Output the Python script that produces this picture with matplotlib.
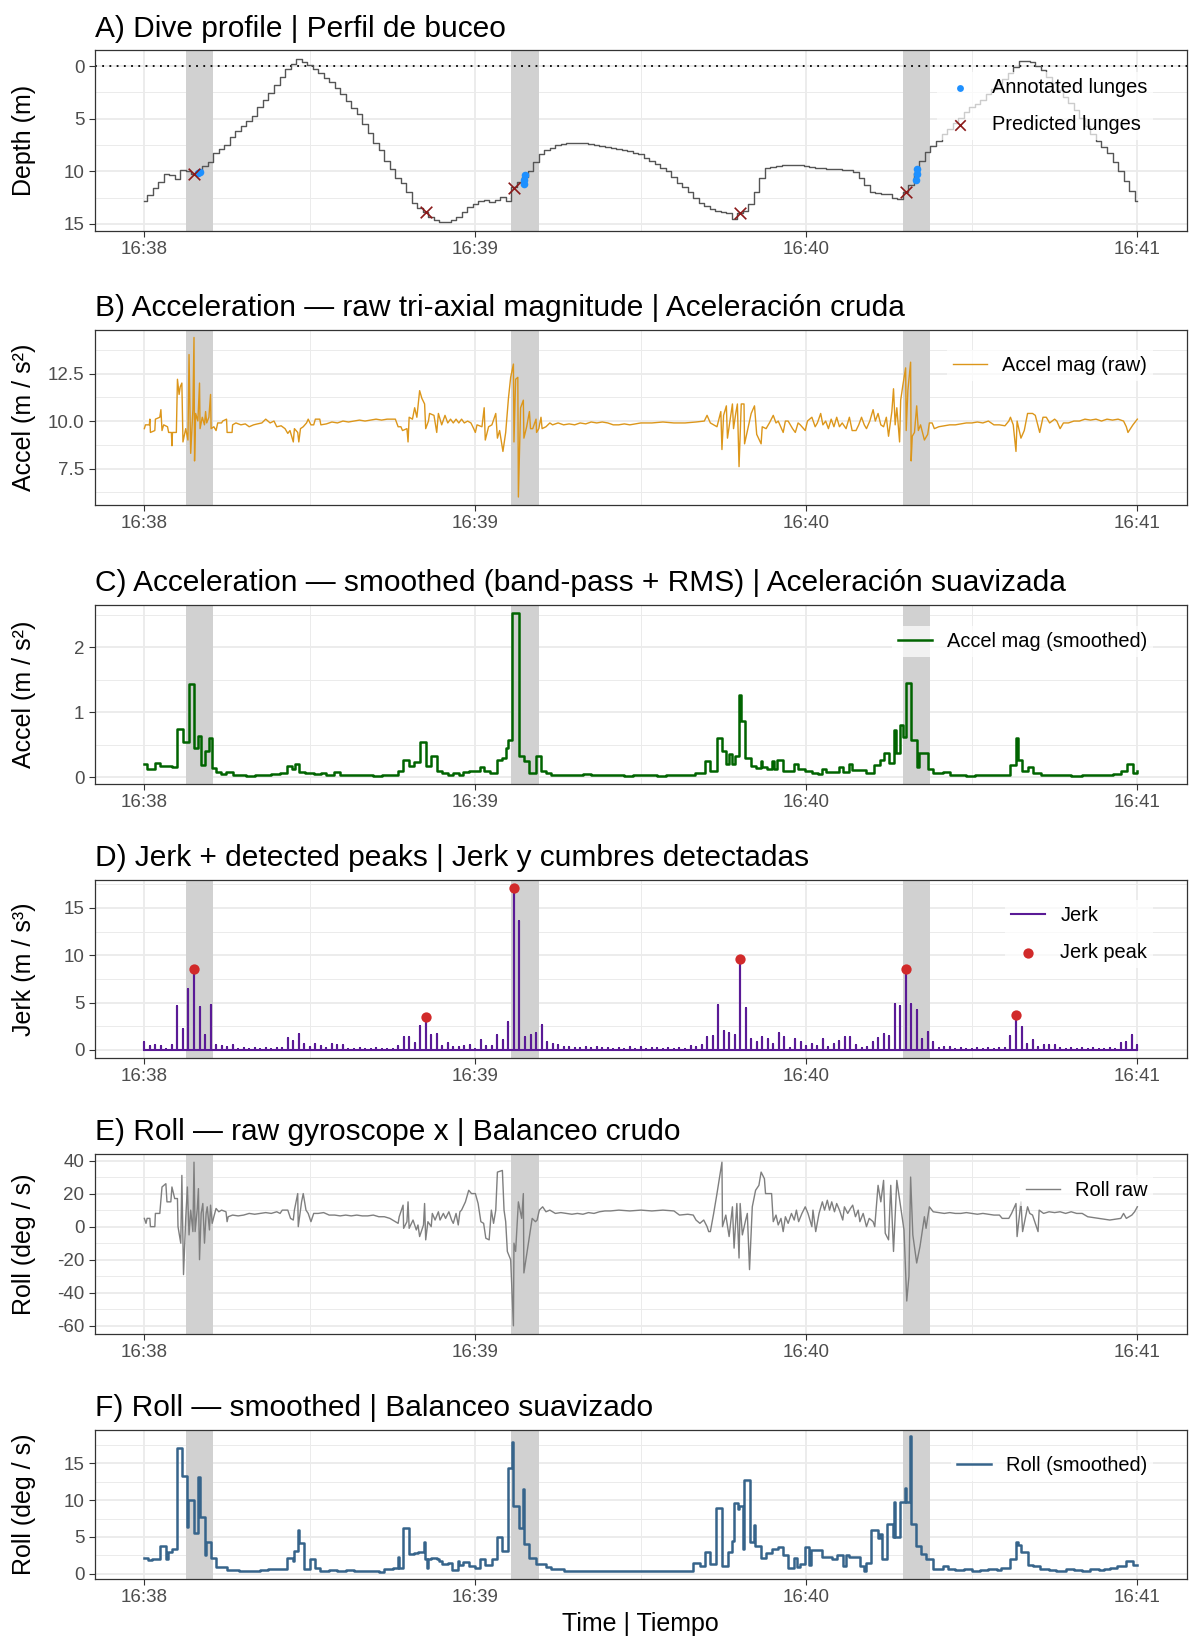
import numpy as np
import matplotlib
matplotlib.use("Agg")
import matplotlib.pyplot as plt
from matplotlib.ticker import FixedLocator, FormatStrFormatter

plt.rcParams['font.family'] = ['Liberation Sans', 'DejaVu Sans']
plt.rcParams['axes.unicode_minus'] = False

# --- time axis (seconds after 16:38:00) ---
tick_secs = [0, 60, 120, 180]
tick_labels = ["16:38", "16:39", "16:40", "16:41"]
minor_secs = [30, 90, 150]
lunge_windows = [(7.5, 12.5), (66.5, 71.5), (137.5, 142.5)]

# --- A) depth, one value per second ---
depth = [12.8, 12.3, 11.6, 11.0, 10.3, 10.35, 10.7, 9.9, 10.0, 10.3,
         10.1, 9.5, 9.1, 8.3, 7.9, 7.5, 6.7, 6.2, 5.7, 5.2,
         4.7, 3.9, 3.2, 2.6, 1.8, 1.0, 0.3, -0.2, -0.7, -0.4,
         -0.1, 0.3, 0.7, 1.1, 1.5, 2.1, 2.7, 3.3, 4.0, 4.6,
         5.5, 6.4, 7.3, 8.0, 9.0, 9.8, 10.6, 11.1, 12.0, 13.0,
         13.5, 13.9, 14.3, 14.65, 14.8, 14.85, 14.6, 14.3, 13.9, 13.4,
         13.1, 12.8, 12.7, 12.9, 12.7, 12.4, 12.8, 11.5, 11.0, 10.5,
         10.0, 9.1, 8.4, 8.0, 7.8, 7.5, 7.4, 7.3, 7.3, 7.3,
         7.35, 7.4, 7.5, 7.6, 7.7, 7.8, 7.9, 8.0, 8.1, 8.3,
         8.4, 8.7, 9.0, 9.3, 9.7, 10.0, 10.5, 11.1, 11.5, 12.0,
         12.5, 13.0, 13.3, 13.6, 13.8, 13.9, 14.0, 14.5, 14.0, 13.8,
         13.1, 12.0, 10.6, 9.7, 9.6, 9.5, 9.45, 9.4, 9.4, 9.45,
         9.5, 9.6, 9.7, 9.7, 9.75, 9.8, 9.8, 9.85, 9.9, 10.1,
         10.6, 11.3, 12.0, 12.1, 12.2, 12.2, 12.5, 12.6, 12.0, 11.3,
         10.2, 9.0, 8.2, 7.6, 7.1, 6.5, 6.0, 5.4, 4.9, 4.4,
         3.9, 3.6, 3.2, 2.7, 2.2, 1.7, 1.2, 0.7, 0.1, -0.5,
         -0.45, -0.35, 0.0, 0.4, 1.0, 1.6, 2.3, 2.9, 3.5, 4.2,
         4.9, 5.7, 6.5, 7.1, 7.7, 8.3, 9.1, 10.0, 10.9, 11.9,
         12.8]
annot_t = [9.8, 10.1, 68.8, 68.9, 69.0, 139.9, 140.0, 140.1]
annot_d = [10.2, 10.1, 11.2, 10.8, 10.4, 10.8, 10.3, 9.8]
pred_t = [9, 51, 67, 108, 138]
pred_d = [10.3, 13.9, 11.6, 14.0, 12.0]

# --- B) raw acceleration magnitude (time, value) ---
acc_raw_t = [0.0, 0.2, 0.9, 1.0, 1.1, 1.9, 2.0, 2.8, 3.0, 3.2, 3.5, 4.2, 4.4, 4.9, 5.0,
             5.1, 5.8, 6.0, 6.3, 6.5, 6.8, 7.0, 7.5, 7.9, 8.1, 8.4, 8.8, 9.0, 9.1, 9.3,
             9.7, 10.0, 10.1, 10.5, 10.9, 11.1, 11.3, 11.7, 12.0, 12.1, 12.6, 13.0, 13.3,
             14.0, 14.2, 14.9, 15.0, 15.9, 16.0, 16.6, 17.5, 18.3, 19.0, 19.8, 20.5, 21.3,
             22.0, 22.8, 23.5, 24.0, 24.8, 25.5, 26.0, 26.4, 27.0, 27.2, 27.8, 28.0, 28.3,
             28.8, 29.4, 29.7, 30.2, 30.7, 31.0, 31.8, 32.0, 33.0, 34.0, 35.0, 36.0, 37.0,
             38.0, 39.0, 40.0, 41.0, 42.0, 43.0, 44.0, 45.0, 45.5, 46.0, 46.5, 46.8, 47.6,
             47.8, 48.0, 48.6, 49.0, 49.4, 49.9, 50.3, 50.8, 51.0, 51.5, 51.7, 52.5, 53.0,
             53.3, 53.9, 54.5, 55.0, 55.5, 56.0, 56.5, 57.0, 57.5, 58.0, 58.6, 59.2, 59.7,
             60.0, 60.3, 61.2, 61.6, 61.8, 62.4, 63.0, 63.7, 64.0, 64.4, 65.0, 65.5, 66.0,
             66.4, 66.9, 67.0, 67.3, 67.7, 67.8, 68.2, 68.7, 68.8, 69.3, 69.8, 70.0, 70.4,
             71.0, 71.1, 71.5, 71.9, 72.1, 72.8, 73.5, 74.0, 75.0, 76.0, 77.0, 78.0, 79.0,
             80.0, 81.0, 82.0, 83.0, 84.0, 85.0, 86.0, 87.0, 88.0, 89.0, 90.0, 92.0, 94.0,
             96.0, 98.0, 100.0, 101.5, 102.0, 102.6, 103.2, 103.8, 104.5, 104.7, 105.0,
             105.5, 105.7, 106.6, 106.8, 107.2, 107.5, 107.8, 108.2, 108.7, 108.8, 109.4,
             110.0, 110.6, 111.0, 111.8, 112.0, 112.7, 113.3, 114.0, 114.5, 114.9, 115.8,
             116.2, 116.7, 117.5, 118.0, 118.5, 118.9, 119.8, 120.2, 121.0, 121.6, 122.0,
             122.6, 123.0, 123.5, 124.0, 124.5, 125.0, 125.5, 126.0, 126.5, 127.2, 127.8,
             128.3, 129.0, 129.5, 130.0, 130.5, 130.9, 131.5, 132.1, 132.5, 133.0, 133.5,
             134.0, 134.5, 134.9, 135.5, 135.8, 136.1, 136.4, 136.9, 137.1, 137.5, 138.0,
             138.1, 138.4, 138.9, 139.0, 139.2, 139.6, 140.0, 140.3, 140.7, 141.4, 142.0,
             142.3, 142.8, 143.2, 144.0, 145.0, 146.0, 147.0, 148.0, 149.0, 150.0, 151.0,
             152.0, 153.0, 154.0, 155.0, 156.0, 156.7, 157.0, 157.5, 158.0, 158.2, 158.9,
             159.5, 160.1, 161.0, 161.5, 162.3, 162.9, 163.5, 164.1, 165.0, 165.4, 166.0,
             166.6, 167.5, 168.5, 169.5, 170.5, 171.5, 172.5, 173.5, 174.5, 175.5, 176.5,
             177.5, 178.0, 178.3, 179.2, 180.0]
acc_raw_v = [9.6, 9.8, 9.8, 10.1, 9.4, 9.5, 10.1, 10.2, 10.6, 9.5, 9.8, 9.7, 9.4, 9.4, 8.7,
             9.4, 9.4, 12.2, 11.4, 11.8, 12.0, 8.9, 9.6, 9.0, 13.5, 8.3, 10.6, 14.4, 7.9, 10.4,
             10.0, 12.0, 9.6, 10.2, 9.8, 10.5, 9.9, 10.2, 11.4, 9.6, 9.7, 9.5, 9.9,
             9.9, 10.0, 10.1, 9.4, 9.4, 9.8, 9.9, 9.8, 9.85, 9.7, 9.8, 9.85, 9.9,
             10.1, 9.9, 10.0, 9.7, 9.75, 9.6, 9.35, 9.5, 8.9, 9.6, 9.4, 8.9, 9.6,
             9.7, 9.9, 10.1, 9.8, 9.8, 10.1, 10.1, 9.8, 9.85, 9.95, 9.9, 10.0, 9.95,
             10.0, 10.05, 10.0, 10.05, 10.1, 10.05, 10.1, 10.1, 10.1, 9.7, 9.7, 9.5, 9.6,
             8.9, 10.2, 10.1, 10.7, 10.2, 11.6, 11.2, 10.9, 9.6, 10.0, 10.4, 10.3, 9.4,
             10.4, 9.8, 10.3, 9.9, 10.1, 9.9, 10.1, 9.9, 10.1, 9.9, 10.0, 9.9, 9.6,
             9.4, 9.8, 9.7, 10.7, 9.0, 9.7, 9.8, 10.4, 9.1, 9.5, 8.4, 9.4, 11.2,
             12.3, 13.0, 8.9, 12.2, 12.3, 6.0, 10.7, 11.1, 9.1, 9.7, 10.5, 9.6, 9.6,
             10.1, 9.4, 9.6, 10.2, 9.6, 9.7, 9.9, 9.8, 9.9, 9.8, 9.85, 9.8, 9.9,
             9.85, 9.95, 9.9, 9.95, 9.9, 9.8, 9.8, 9.85, 9.8, 9.85, 9.9, 9.9, 9.95,
             9.9, 9.9, 9.95, 10.0, 10.3, 9.9, 9.8, 9.7, 10.5, 8.5, 10.3,
             10.8, 9.1, 10.9, 9.6, 10.4, 10.9, 7.6, 10.9, 10.9, 8.8, 9.6,
             10.4, 10.8, 9.3, 8.8, 9.7, 9.6, 9.9, 10.3, 9.9, 10.0, 9.4,
             10.0, 10.0, 9.6, 9.4, 9.9, 9.8, 9.5, 10.0, 10.2, 9.7, 9.9,
             10.4, 9.8, 10.0, 9.6, 10.1, 9.7, 10.2, 9.7, 9.9, 9.6, 10.2,
             9.5, 9.5, 9.8, 10.2, 9.8, 9.6, 10.0, 10.6, 10.0, 10.4, 9.8,
             9.7, 10.2, 9.2, 10.5, 11.7, 9.8, 10.7, 8.9, 11.1, 11.9, 12.8,
             9.5, 11.6, 13.1, 7.9, 9.2, 9.4, 10.8, 9.5, 9.8, 9.0, 9.3,
             9.9, 9.9, 9.6, 9.7, 9.75, 9.8, 9.8, 9.85, 9.9, 9.9, 9.95,
             9.9, 10.0, 9.8, 9.8, 9.75, 10.0, 10.2, 9.8, 8.4, 10.0, 9.1,
             9.5, 10.4, 10.4, 10.3, 9.4, 10.2, 10.2, 9.9, 10.1, 10.0, 9.6,
             9.9, 9.9, 10.0, 10.0, 10.1, 10.05, 10.1, 10.0, 10.1, 10.05, 10.1,
             10.0, 9.7, 9.4, 9.8, 10.1]

# --- C) smoothed acceleration, step starts and values ---
acc_sm_t = [0, 0.4, 1.9, 2.9, 5.0, 5.9, 7.0, 8.1, 9.0, 9.8, 10.2, 11.0, 11.7, 12.2, 13.0,
            13.9, 14.8, 16.0, 17.2, 18.5, 20.0, 21.5, 23.0, 24.5, 25.8, 26.7, 27.3, 28.1,
            29.1, 30.0, 30.7, 32.0, 33.0, 34.3, 35.4, 37.0, 38.5, 40.0, 41.5, 43.0, 44.5,
            46.0, 46.9, 47.9, 48.9, 49.9, 51.0, 52.0, 53.0, 53.9, 55.0, 56.0, 57.0, 57.8,
            58.8, 60.0, 60.9, 61.5, 62.7, 64.0, 64.8, 65.5, 66.0, 66.6, 67.9, 68.8, 69.8,
            71.0, 71.9, 72.8, 73.8, 75.0, 76.5, 78.0, 79.5, 81.0, 82.5, 84.0, 85.5, 87.0,
            88.5, 90.0, 91.5, 93.0, 94.5, 96.0, 97.5, 99.8, 101.7, 102.6, 103.8, 104.7,
            105.4, 106.0, 106.6, 107.0, 107.8, 108.1, 108.9, 110.0, 110.9, 111.8, 112.0,
            112.9, 113.8, 114.1, 114.6, 115.8, 117.7, 118.4, 119.8, 121.0, 122.2, 122.8,
            123.5, 126.0, 126.6, 127.8, 128.2, 130.9, 132.2, 133.4, 134.0, 134.9, 135.8,
            136.3, 136.9, 137.5, 138.0, 139.0, 140.0, 140.4, 142.0, 142.9, 144.7, 146.0,
            147.5, 149.0, 150.5, 152.0, 153.5, 155.0, 157.0, 158.0, 158.3, 159.1, 160.1,
            161.0, 162.5, 164.0, 166.0, 168.0, 170.0, 172.0, 174.0, 175.5, 177.0, 178.2,
            179.2, 180.0]
acc_sm_v = [0.20, 0.13, 0.22, 0.17, 0.15, 0.74, 0.54, 1.44, 0.45, 0.63, 0.18, 0.40, 0.60, 0.14, 0.08,
            0.05, 0.08, 0.04, 0.03, 0.02, 0.03, 0.04, 0.05, 0.06, 0.17, 0.12, 0.20, 0.08,
            0.06, 0.07, 0.05, 0.06, 0.04, 0.08, 0.04, 0.03, 0.04, 0.03, 0.02, 0.03, 0.04,
            0.10, 0.27, 0.17, 0.24, 0.55, 0.17, 0.33, 0.09, 0.06, 0.04, 0.06, 0.04, 0.08,
            0.09, 0.10, 0.15, 0.10, 0.07, 0.27, 0.30, 0.45, 0.58, 2.53, 0.33, 0.25, 0.07,
            0.33, 0.10, 0.07, 0.04, 0.03, 0.04, 0.03, 0.05, 0.04, 0.03, 0.04, 0.03, 0.02,
            0.03, 0.04, 0.03, 0.02, 0.03, 0.04, 0.03, 0.07, 0.25, 0.10, 0.60, 0.40,
            0.20, 0.35, 0.20, 0.32, 1.27, 0.87, 0.30, 0.17, 0.14, 0.25, 0.15,
            0.13, 0.25, 0.13, 0.27, 0.10, 0.20, 0.12, 0.10, 0.06, 0.05, 0.13,
            0.08, 0.15, 0.08, 0.20, 0.11, 0.06, 0.18, 0.27, 0.37, 0.22, 0.73,
            0.37, 0.80, 0.62, 1.45, 0.58, 0.15, 0.37, 0.12, 0.06, 0.08, 0.04,
            0.03, 0.02, 0.03, 0.04, 0.03, 0.04, 0.18, 0.60, 0.27, 0.10, 0.16,
            0.06, 0.04, 0.03, 0.04, 0.02, 0.03, 0.04, 0.03, 0.05, 0.10, 0.20,
            0.06, 0.10]

# --- D) jerk, one value per second ---
jerk = [0.8, 0.4, 0.5, 0.4, 0.1, 0.5, 4.6, 2.2, 6.4, 8.6,
        4.5, 1.6, 4.7, 0.5, 0.4, 0.3, 0.5, 0.1, 0.2, 0.1,
        0.2, 0.1, 0.2, 0.1, 0.2, 0.2, 1.3, 0.9, 1.7, 0.6,
        0.3, 0.6, 0.4, 0.2, 0.6, 0.5, 0.5, 0.1, 0.1, 0.2,
        0.1, 0.1, 0.2, 0.1, 0.1, 0.1, 0.4, 1.4, 1.4, 0.7,
        2.5, 3.5, 1.6, 1.7, 0.4, 0.7, 0.3, 0.3, 0.4, 0.5,
        0.1, 1.0, 0.4, 0.4, 1.6, 1.0, 3.0, 17.1, 13.6, 1.4,
        1.6, 1.8, 2.6, 0.8, 0.6, 0.5, 0.3, 0.3, 0.2, 0.2,
        0.3, 0.2, 0.3, 0.2, 0.2, 0.1, 0.2, 0.1, 0.3, 0.1,
        0.3, 0.1, 0.2, 0.2, 0.1, 0.2, 0.1, 0.2, 0.1, 0.4,
        0.3, 0.5, 1.4, 1.5, 4.7, 2.0, 1.8, 1.6, 9.6, 4.4,
        1.1, 0.8, 1.4, 1.2, 0.6, 1.8, 1.4, 0.2, 1.1, 0.8,
        0.4, 0.6, 0.4, 1.2, 0.3, 0.6, 0.9, 1.4, 1.4, 0.5,
        0.2, 0.3, 0.8, 1.3, 1.7, 1.5, 4.8, 4.6, 8.6, 4.9,
        4.2, 1.2, 1.9, 0.8, 0.2, 0.3, 0.3, 0.1, 0.2, 0.1,
        0.1, 0.2, 0.1, 0.2, 0.1, 0.2, 0.2, 1.5, 3.7, 2.4,
        0.6, 1.0, 0.3, 0.5, 0.5, 0.5, 0.2, 0.1, 0.2, 0.1,
        0.2, 0.1, 0.2, 0.1, 0.1, 0.2, 0.1, 0.7, 0.8, 1.6,
        0.5]
peak_t = [9, 51, 67, 108, 138, 158]

# --- E) raw roll (time, value) ---
roll_raw_t = [0.0, 0.3, 0.5, 1.0, 1.1, 1.9, 2.0, 2.8, 2.9, 3.2, 3.9, 4.1, 4.8, 5.0, 5.5, 6.0,
              6.1, 6.6, 6.8, 7.1, 7.5, 7.8, 8.1, 8.4, 8.8, 9.0, 9.2, 9.6, 9.8, 10.0, 10.3,
              10.6, 10.9, 11.2, 11.4, 11.8, 12.0, 12.3, 12.6, 13.0, 13.5, 14.0, 14.8, 15.0,
              15.2, 16.0, 17.0, 18.0, 19.0, 20.0, 21.0, 22.0, 23.0, 24.0, 24.6, 25.0, 26.0,
              26.5, 27.0, 27.2, 27.8, 27.9, 28.3, 28.5, 28.8, 29.3, 29.7, 30.2, 30.7, 31.5,
              32.5, 33.5, 34.5, 35.5, 36.5, 37.5, 38.5, 39.5, 40.5, 41.5, 42.5, 43.5, 44.5,
              45.5, 46.0, 46.2, 46.9, 47.0, 47.6, 47.8, 48.0, 48.7, 49.3, 49.6, 49.9, 50.6,
              50.8, 51.0, 51.4, 52.0, 52.2, 52.7, 53.3, 53.6, 54.2, 54.6, 55.2, 55.7, 56.0,
              56.5, 56.9, 57.2, 57.5, 58.2, 58.8, 59.3, 60.0, 60.5, 61.0, 61.5, 61.9, 62.5,
              62.9, 63.3, 63.7, 64.0, 64.9, 65.2, 65.5, 65.8, 66.4, 66.9, 67.0, 67.3, 67.8,
              68.4, 68.7, 68.8, 69.7, 70.3, 70.9, 71.2, 71.6, 72.2, 72.8, 73.5, 74.5, 75.5,
              76.5, 77.5, 78.5, 79.5, 80.5, 81.5, 82.5, 83.5, 84.5, 86.0, 88.0, 90.0, 92.0,
              94.0, 96.0, 97.0, 98.5, 99.5, 100.0, 100.7, 101.4, 102.0, 102.3, 102.6, 103.2,
              103.8, 104.7, 104.8, 105.4, 106.0, 106.6, 106.9, 107.4, 107.8, 108.0, 108.4,
              109.0, 109.3, 109.7, 110.2, 110.8, 111.4, 111.8, 112.4, 112.6, 113.7, 114.0,
              114.5, 114.9, 115.4, 115.8, 116.2, 116.7, 117.3, 117.8, 118.2, 118.6, 119.2,
              119.8, 120.3, 121.0, 121.2, 121.7, 122.3, 122.9, 123.3, 123.8, 124.2, 124.6,
              125.1, 125.5, 126.0, 126.6, 126.9, 127.5, 128.0, 128.4, 128.9, 129.4, 129.7,
              130.3, 130.9, 131.4, 132.1, 132.4, 133.0, 133.5, 134.0, 134.3, 134.9, 135.3,
              135.8, 136.4, 137.0, 137.7, 138.2, 138.6, 138.9, 139.3, 140.0, 140.6, 141.0,
              141.4, 141.7, 142.3, 143.0, 144.0, 145.0, 146.0, 147.0, 148.0, 149.0, 150.0,
              151.0, 152.0, 153.0, 154.0, 155.0, 155.5, 156.7, 157.2, 158.0, 158.2, 158.9,
              159.2, 160.1, 160.5, 161.0, 162.0, 162.2, 163.0, 164.0, 165.0, 166.0, 167.0,
              168.0, 169.0, 170.0, 171.0, 172.0, 173.0, 174.0, 175.0, 176.0, 177.0, 177.5,
              178.0, 179.0, 179.5, 180.0]
roll_raw_v = [5, 2, 5, 5, 0, 0, 8, 8, 12, 24, 26, 15, 15, 24, 17, 17,
              0, -10, 31, -29, 5, 24, -5, 10, -3, 39, -3, 11, 23, -20, 8,
              14, -10, 8, 12, -2, 13, 2, 6, 11, 9, 10, 9, 3,
              6, 7, 6.5, 7, 8, 7.5, 8, 8.5, 8, 9, 8, 10, 10,
              5, 4, 10, 20, 0, 10, 15, 20, 10, 8, 3, 8, 8,
              8.5, 7, 7, 6.5, 7, 6.5, 7, 6.5, 6.5, 7, 6, 6, 5,
              3, 2, 6, 13, -1, 3, 15, -1, 4, -2, 1, -6, 1,
              14, -8, 3, 0, 8, 4, 9, 4, 8, 5, 9, 4, 2,
              8, 1, 9, 10, 15, 22, 20, 20, 14, 3, 2, -7, -8,
              10, 2, 10, 33, 34, 10, 3, -15, -20, -60, -10, -15, 15,
              5, 20, -28, -8, 5, 3, 4, 10, 12, 9, 10, 8, 8.5,
              8, 7.5, 8, 7.5, 8.5, 8, 9, 9.5, 9.5, 10, 9.5, 10, 9.5,
              10, 9.5, 7, 7.5, 7, 4, 2, 4, 0, -3, -3, 8,
              20, 39, 0, 7, -6, 12, -13, 14, -19, 14, -5,
              4, 8, -26, 12, 22, 25, 33, 29, 20, 20, 3,
              7, 1, 5, -3, 6, 2, 8, 4, 10, 3, 8,
              12, 8, 0, 10, -3, 8, 15, 10, 16, 10, 15,
              9, 14, 10, 4, 12, 8, 11, 13, 6, 10, 3,
              8, 0, 5, 3, 0, 25, 15, 28, -4, -8, 25,
              -15, 28, 14, -2, -45, -30, 30, -5, -22, -12, -3,
              6, -1, 12, 9, 8.5, 8, 8.5, 8, 8, 8.5, 8,
              7.5, 8, 7.5, 7, 7, 5, 5, 8, 14, -6, 15,
              -3, 12, 8, 7, -3, 10, 8, 9, 8.5, 9, 8,
              9, 8, 8, 6, 5.5, 5, 4.5, 4, 4.5, 5, 8,
              5, 7, 9, 12]

# --- F) smoothed roll, step starts and values ---
roll_sm_t = [0, 0.7, 1.3, 2.9, 3.9, 4.3, 5.0, 5.9, 6.8, 7.8, 8.0, 9.0, 9.8, 10.0, 11.0,
             11.1, 12.0, 13.0, 15.0, 17.2, 19.0, 21.0, 22.5, 24.0, 25.8, 26.9, 27.1, 27.8,
             28.1, 29.0, 30.1, 31.0, 31.9, 33.5, 35.0, 36.5, 38.0, 39.5, 41.0, 42.5, 43.5,
             45.0, 45.9, 46.1, 46.9, 47.9, 48.9, 49.6, 50.7, 50.9, 51.3, 51.5, 51.9, 53.0,
             53.4, 53.9, 55.0, 55.7, 56.8, 57.0, 57.8, 58.8, 60.0, 60.9, 61.8, 63.0, 64.0,
             64.9, 66.0, 66.7, 66.9, 67.9, 68.7, 68.8, 69.8, 71.0, 72.8, 73.7, 76.0, 78.0,
             80.0, 82.0, 84.0, 86.0, 88.0, 90.0, 92.0, 94.0, 96.0, 98.0, 99.5, 100.7, 101.7,
             102.6, 103.7, 104.7, 105.8, 106.6, 106.8, 107.6, 107.8, 108.6, 108.7, 109.8,
             110.6, 110.7, 111.7, 112.7, 113.7, 114.8, 115.8, 116.7, 117.8, 118.3, 118.8,
             119.8, 120.5, 120.9, 122.8, 124.7, 125.6, 126.6, 127.2, 127.8, 129.7, 130.5,
             130.9, 131.8, 132.9, 133.4, 133.8, 134.7, 135.7, 135.9, 136.1, 136.9, 137.9,
             138.0, 138.8, 138.9, 139.8, 140.7, 141.7, 142.9, 144.7, 145.7, 147.0, 148.5,
             150.0, 151.5, 153.0, 154.5, 155.2, 157.0, 158.0, 158.3, 158.9, 160.1, 161.0,
             162.3, 164.0, 165.3, 167.0, 168.5, 170.0, 171.5, 173.0, 174.0, 175.0, 176.4,
             178.0, 179.2, 180.0]
roll_sm_v = [2.2, 1.8, 2.0, 3.7, 2.0, 3.0, 3.4, 17.1, 13.3, 6.4, 10.0, 5.5, 13.2, 7.7, 2.5,
             4.3, 2.2, 0.9, 0.5, 0.3, 0.4, 0.5, 0.6, 0.7, 2.1, 1.7, 3.1, 6.0,
             4.2, 0.6, 2.0, 0.8, 0.3, 0.5, 0.4, 0.5, 0.3, 0.4, 0.3, 0.2, 0.6,
             0.8, 2.3, 0.8, 6.2, 2.7, 2.8, 3.0, 4.3, 2.0, 0.8, 2.0, 2.1, 2.0,
             1.7, 1.3, 1.5, 0.5, 1.7, 1.2, 1.6, 1.0, 0.8, 2.0, 1.2, 2.0, 5.0,
             3.1, 14.4, 17.9, 9.2, 6.2, 11.5, 4.0, 2.2, 1.3, 0.9, 0.6, 0.4, 0.3,
             0.4, 0.3, 0.4, 0.3, 0.4, 0.3, 0.4, 0.3, 0.4, 0.3, 1.4, 1.0, 3.0,
             1.3, 9.0, 1.1, 3.0, 4.5, 9.6, 8.8, 9.2, 3.4, 12.7, 4.3,
             6.6, 3.7, 2.1, 2.8, 3.3, 3.6, 2.5, 0.8, 2.2, 0.9, 1.3,
             3.6, 1.2, 3.2, 2.3, 2.0, 2.6, 1.0, 2.5, 2.3, 1.0, 0.4,
             1.5, 5.9, 4.9, 5.4, 2.0, 6.8, 5.0, 9.8, 5.0, 9.8, 11.6,
             9.8, 18.7, 6.7, 3.8, 2.7, 2.0, 0.6, 1.0, 0.6, 0.5, 0.6,
             0.4, 0.5, 0.6, 0.5, 0.8, 2.0, 4.3, 3.9, 3.0, 1.2, 1.0,
             0.6, 0.5, 0.4, 0.6, 0.5, 0.4, 0.6, 0.5, 0.7, 0.8, 1.0,
             1.7, 1.2, 1.2]

sec = np.arange(len(depth))
jerk = np.array(jerk)

W, H = 1200, 1650
LEFT, RIGHT = 94.7, 1187
FS_TICK, FS_LEG, FS_AX, FS_TITLE = 13.5, 14.4, 18, 21.5
GRID = "#ebebeb"
YLAB_X = -0.054


def make_axes(fig, top, bottom):
    return fig.add_axes([LEFT / W, 1 - bottom / H, (RIGHT - LEFT) / W, (bottom - top) / H])


def style(ax, title, ylabel, yticks, yminor, fmt=None):
    ax.set_facecolor("white")
    for w0, w1 in lunge_windows:
        ax.axvspan(w0, w1, color="#d1d1d1", lw=0, zorder=1)
    ax.set_xticks(tick_secs)
    ax.set_xticklabels(tick_labels)
    ax.xaxis.set_minor_locator(FixedLocator(minor_secs))
    ax.set_yticks(yticks)
    ax.yaxis.set_minor_locator(FixedLocator(yminor))
    if fmt:
        ax.yaxis.set_major_formatter(FormatStrFormatter(fmt))
    ax.grid(True, which="major", color=GRID, lw=1.3, zorder=0)
    ax.grid(True, which="minor", color=GRID, lw=0.7, zorder=0)
    ax.set_axisbelow(True)
    ax.tick_params(which="major", labelsize=FS_TICK, labelcolor="#4d4d4d",
                   color="#333333", length=4, width=0.8)
    ax.tick_params(which="minor", length=0)
    for s in ax.spines.values():
        s.set_color("#333333")
        s.set_linewidth(0.9)
    ax.set_title(title, loc="left", fontsize=FS_TITLE, pad=10)
    ax.set_ylabel(ylabel, fontsize=FS_AX)
    ax.yaxis.set_label_coords(YLAB_X, 0.5)


def legend(ax, anchor, **kw):
    leg = ax.legend(loc="upper right", bbox_to_anchor=anchor, fontsize=FS_LEG,
                    frameon=True, framealpha=0.7, edgecolor="none", fancybox=False,
                    handlelength=1.7, handletextpad=0.75, labelspacing=0.9,
                    borderpad=0.3, borderaxespad=0, **kw)
    leg.set_zorder(20)
    return leg


fig = plt.figure(figsize=(W / 100, H / 100), dpi=100)

# A) dive profile
ax = make_axes(fig, 50.5, 230.5)
style(ax, "A) Dive profile | Perfil de buceo", "Depth (m)", [0, 5, 10, 15], [2.5, 7.5, 12.5])
ax.axhline(0, color="black", ls=(0, (1, 3)), lw=1.3, zorder=2)
ax.plot(sec, depth, drawstyle="steps-mid", color="#555555", lw=1.0, zorder=3)
ax.scatter(annot_t, annot_d, s=30, color="#1e90ff", zorder=4, label="Annotated lunges",
           linewidths=0)
ax.scatter(pred_t, pred_d, s=70, marker="x", color="#8b1a1a", linewidths=1.2, zorder=5,
           label="Predicted lunges")
ax.invert_yaxis()
legend(ax, (0.969, 0.88), markerscale=0.9)

# B) raw acceleration
ax = make_axes(fig, 329.5, 505)
style(ax, "B) Acceleration \u2014 raw tri-axial magnitude | Aceleraci\u00f3n cruda",
      "Accel (m / s\u00b2)", [7.5, 10.0, 12.5], [6.25, 8.75, 11.25, 13.75], fmt="%.1f")
ax.plot(acc_raw_t, acc_raw_v, color="#dc961a", lw=1.0, zorder=3, label="Accel mag (raw)")
legend(ax, (0.969, 0.885))

# C) smoothed acceleration
ax = make_axes(fig, 605, 784)
style(ax, "C) Acceleration \u2014 smoothed (band-pass + RMS) | Aceleraci\u00f3n suavizada",
      "Accel (m / s\u00b2)", [0, 1, 2], [0.5, 1.5, 2.5])
ax.plot(acc_sm_t, acc_sm_v, drawstyle="steps-post", color="#006400", lw=1.8, zorder=3,
        label="Accel mag (smoothed)")
legend(ax, (0.969, 0.885))

# D) jerk
ax = make_axes(fig, 880, 1058)
style(ax, "D) Jerk + detected peaks | Jerk y cumbres detectadas", "Jerk (m / s\u00b3)",
      [0, 5, 10, 15], [2.5, 7.5, 12.5, 17.5])
jx = np.repeat(sec, 3)
jy = np.column_stack([np.zeros_like(jerk), jerk, np.zeros_like(jerk)]).ravel()
ax.plot(jx, jy, color="#5a1a96", lw=1.5, zorder=3, label="Jerk")
ax.scatter(peak_t, jerk[peak_t], s=55, color="#d12a2a", zorder=4, label="Jerk peak",
           linewidths=0)
legend(ax, (0.969, 0.885))

# E) raw roll
ax = make_axes(fig, 1154, 1334)
style(ax, "E) Roll \u2014 raw gyroscope x | Balanceo crudo", "Roll (deg / s)",
      [-60, -40, -20, 0, 20, 40], [-50, -30, -10, 10, 30])
ax.plot(roll_raw_t, roll_raw_v, color="#7f7f7f", lw=1.0, zorder=3, label="Roll raw")
legend(ax, (0.969, 0.885))

# F) smoothed roll
ax = make_axes(fig, 1429.5, 1579)
style(ax, "F) Roll \u2014 smoothed | Balanceo suavizado", "Roll (deg / s)",
      [0, 5, 10, 15], [2.5, 7.5, 12.5, 17.5])
ax.plot(roll_sm_t, roll_sm_v, drawstyle="steps-post", color="#36648b", lw=1.8, zorder=3,
        label="Roll (smoothed)")
legend(ax, (0.969, 0.865))
ax.set_xlabel("Time | Tiempo", fontsize=FS_AX, labelpad=4)

fig.savefig("out.png", dpi=100, facecolor="white")
